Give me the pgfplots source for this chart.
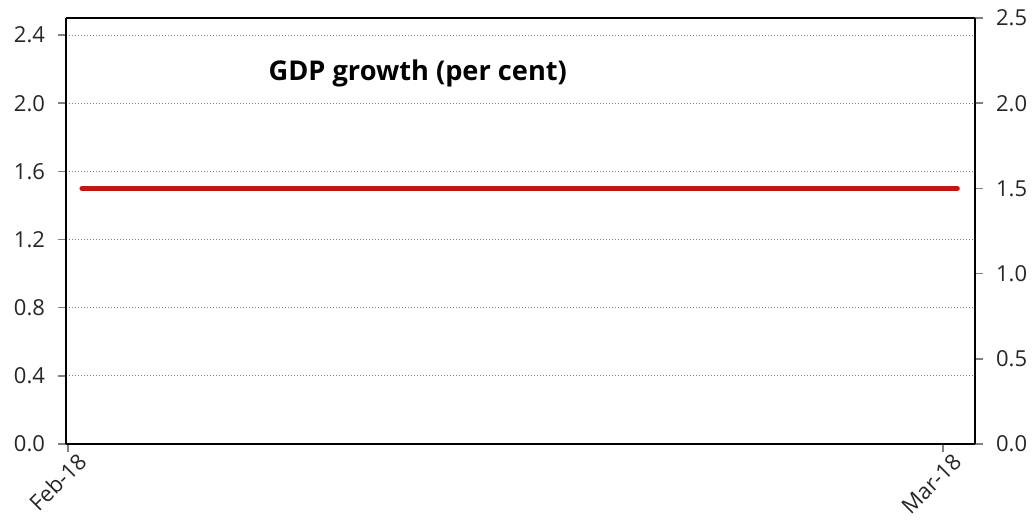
\documentclass[border=0pt]{standalone}
\usepackage{pgfplots}
\pgfplotsset{compat=1.18}
\usepackage{fontspec}
\setmainfont{Open Sans}
\definecolor{lineRed}{HTML}{C0180C}
\definecolor{gridGrey}{HTML}{808080}
\begin{document}
\begin{tikzpicture}
\pgfplotsset{
  base/.style={
    width=454.5pt, height=213pt, scale only axis,
    xmin=-0.064, xmax=29.02, ymin=0, ymax=2.5,
    axis line style={line width=1pt, black},
    tick style={line width=0.8pt},
    major tick length=4pt,
    tick label style={font=\fontsize{11}{13}\selectfont, text=black!85},
    /pgf/number format/assume math mode=true,
    yticklabel style={/pgf/number format/fixed, /pgf/number format/fixed zerofill, /pgf/number format/precision=1},
  }
}
\begin{axis}[base,
  axis y line*=left, axis x line*=bottom,
  ytick={0,0.4,0.8,1.2,1.6,2.0,2.4},
  ymajorgrids, grid style={gridGrey, line width=0.5pt, densely dotted},
  ytick pos=left, ytick align=outside,
  xtick={0,28}, xticklabels={Feb-18,Mar-18},
  xtick align=outside, xtick pos=bottom,
  x tick style={gridGrey},
  xticklabel style={rotate=45, anchor=east, xshift=6.5pt, yshift=-7pt},
  yticklabel style={xshift=-3pt},
  clip=false,
]
\addplot[lineRed, line width=2.6pt, line cap=round] coordinates {(0.45,1.5) (28.45,1.5)};
\node[font=\bfseries\fontsize{13.6}{16}\selectfont, anchor=center] at (rel axis cs:0.387,0.869) {GDP growth (per cent)};
\coordinate (sw) at (rel axis cs:0,0);
\coordinate (ne) at (rel axis cs:1,1);
\draw[line width=1pt] (rel axis cs:0,1) -- (rel axis cs:1,1);
\end{axis}
\begin{axis}[base,
  axis y line*=right, axis x line=none,
  ytick={0,0.5,1.0,1.5,2.0,2.5},
  ytick align=outside, ytick pos=right,
  yticklabel style={xshift=3pt},
]
\end{axis}
\pgfresetboundingbox
\path (sw) ++(-33pt,-44pt) coordinate (a);
\path (ne) ++(30.5pt,9pt) coordinate (b);
\useasboundingbox (a) rectangle (b);
\end{tikzpicture}
\end{document}
